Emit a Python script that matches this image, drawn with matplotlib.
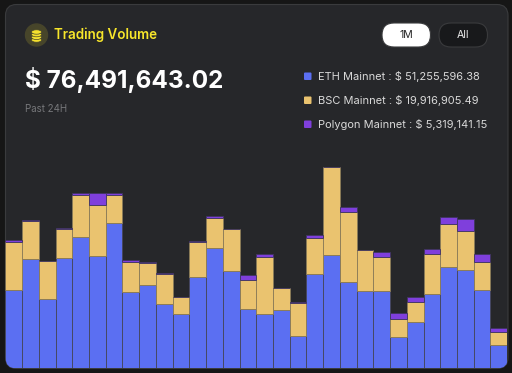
import matplotlib
matplotlib.use("Agg")
import matplotlib.pyplot as plt
from matplotlib.patches import FancyBboxPatch, Circle, Ellipse

plt.rcParams["font.family"] = ["Inter", "DejaVu Sans"]

# values (bar heights, same unit for all series)
eth = [77.3, 108.3, 68.7, 109.3, 130.3, 111.3, 145, 75.7, 82.3, 63.3,
       53.3, 91, 120, 96.3, 58.3, 54, 57.7, 32, 94, 112.7,
       86, 76.7, 76.7, 30.3, 45.3, 73.3, 101, 98, 77.3, 22.7]
bsc = [48.7, 38.3, 37.7, 29, 42.7, 51, 27.3, 29.7, 22.3, 30,
       17, 34.3, 30, 42, 29.3, 56.3, 22, 32.3, 35.3, 88.3,
       69.7, 41, 33.7, 18.3, 20.7, 40.7, 43, 39, 28.7, 13.3]
polygon = [2, 1.3, 0.7, 1.3, 1.7, 12.3, 2.3, 2.7, 1, 1,
           0.7, 1.3, 2, 0.3, 4.7, 3.7, 0.3, 1.3, 3.3, 0,
           5, 0.3, 5.3, 5.7, 4.7, 4.7, 7, 11.3, 8, 3.7]
legend_names = ["ETH Mainnet", "BSC Mainnet", "Polygon Mainnet"]
legend_values = ["$ 51,255,596.38", "$ 19,916,905.49", "$ 5,319,141.15"]
colors = ["#5b6ff2", "#eac36f", "#7f3fdc"]

fig = plt.figure(figsize=(5.12, 3.73), dpi=100, facecolor="#161616")

# overlay in pixel coordinates for the card and the texts
bg = fig.add_axes([0, 0, 1, 1])
bg.set_xlim(0, 512)
bg.set_ylim(373, 0)
bg.axis("off")

card = FancyBboxPatch((5.5, 4.5), 502.5, 364, boxstyle="round,pad=0,rounding_size=11",
                      facecolor="#26272a", edgecolor="#3a3b3d", linewidth=0.8)
bg.add_patch(card)

# coin icon
bg.add_patch(Circle((36.5, 35), 11, color="#47452a"))
for cy in [40, 37.3, 34.6, 32]:
    bg.add_patch(Ellipse((36.5, cy), 10, 4.4, facecolor="#f5e12e", edgecolor="#47452a", linewidth=0.5))

bg.text(54, 34.5, "Trading Volume", color="#f7e62a", fontsize=9.65, fontweight="semibold", va="center")
bg.text(25, 80, "$ 76,491,643.02", color="white", fontsize=17.5, fontweight="bold", va="center")
bg.text(25, 109.5, "Past 24H", color="#77787b", fontsize=7, va="center")

# period buttons
bg.add_patch(FancyBboxPatch((382, 23), 48.5, 24, boxstyle="round,pad=0,rounding_size=12",
                            facecolor="white", edgecolor="#3a3b3d", linewidth=0.8))
bg.add_patch(FancyBboxPatch((439, 23), 48.5, 24, boxstyle="round,pad=0,rounding_size=12",
                            facecolor="#18191b", edgecolor="#3a3b3d", linewidth=0.8))
bg.text(406, 35.3, "1M", color="#222222", fontsize=7.6, ha="center", va="center")
bg.text(463, 35.3, "All", color="#e8e8e8", fontsize=7.6, ha="center", va="center")

# legend
for name, value, color, y in zip(legend_names, legend_values, colors, [76, 100, 124]):
    bg.add_patch(FancyBboxPatch((304, y - 3.5), 7.5, 7.5, boxstyle="round,pad=0,rounding_size=1",
                                facecolor=color, edgecolor="none"))
    bg.text(318.5, y, name + " : " + value, color="#d9d9d9", fontsize=7.95, va="center")

# stacked bars
ax = fig.add_axes([5.4 / 512, 5.4 / 373, 501.8 / 512, 205 / 373])
ax.patch.set_alpha(0)
ax.axis("off")
x = range(len(eth))
bottom2 = [a + b for a, b in zip(eth, bsc)]
bars = []
bars += ax.bar(x, eth, width=1, color=colors[0], edgecolor="#45465a", linewidth=0.6)
bars += ax.bar(x, bsc, width=1, bottom=eth, color=colors[1], edgecolor="#8a7b58", linewidth=0.6)
bars += ax.bar(x, polygon, width=1, bottom=bottom2, color=colors[2], edgecolor="#3f3560", linewidth=0.6)
ax.set_xlim(-0.5, 29.5)
ax.set_ylim(0, 205)

# bars follow the rounded corners of the card
for b in bars:
    b.set_clip_path(card)

fig.savefig("out.png", dpi=100, facecolor=fig.get_facecolor())
